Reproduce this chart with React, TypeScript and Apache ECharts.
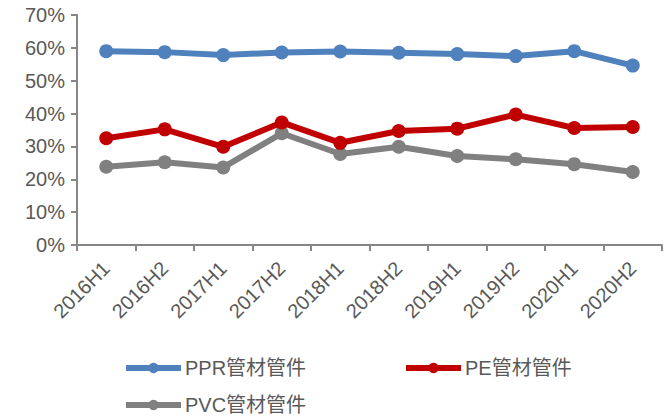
import React, { useEffect, useRef } from "react";
import * as echarts from "echarts";

const categories = ["2016H1", "2016H2", "2017H1", "2017H2", "2018H1", "2018H2", "2019H1", "2019H2", "2020H1", "2020H2"];
const pprValues = [59.0, 58.7, 57.8, 58.6, 58.9, 58.5, 58.1, 57.5, 59.0, 54.6];
const peValues = [32.5, 35.2, 29.9, 37.3, 31.1, 34.7, 35.4, 39.7, 35.6, 35.9];
const pvcValues = [23.8, 25.2, 23.6, 34.0, 27.7, 29.9, 27.1, 26.1, 24.6, 22.2];
const seriesNames = ["PPR管材管件", "PE管材管件", "PVC管材管件"];
const yTicks = [0, 10, 20, 30, 40, 50, 60, 70];

const colors = ["#4F81BD", "#C00000", "#808080"];
const FONT = "'Liberation Sans', Arial, 'Noto Sans CJK SC', sans-serif";

export default function App() {
  const ref = useRef<HTMLDivElement>(null);
  useEffect(() => {
    document.body.style.margin = "0";
    if (!ref.current) return;
    const chart = echarts.init(ref.current, null, { renderer: "svg" });
    const dataSets = [pprValues, peValues, pvcValues];
    const legendBase = {
      itemWidth: 55,
      itemHeight: 13,
      itemGap: 0,
      lineStyle: { width: 6 },
      textStyle: { fontFamily: FONT, fontSize: 20, color: "#595959", padding: [0, 0, 0, -1] },
    };
    chart.setOption({
      animation: false,
      backgroundColor: "#ffffff",
      grid: { left: 77, right: 5, top: 15, bottom: 171, containLabel: false },
      legend: [
        { ...legendBase, data: [seriesNames[0]], left: 118, top: 353 },
        { ...legendBase, data: [seriesNames[1]], left: 398, top: 353 },
        { ...legendBase, data: [seriesNames[2]], left: 118, top: 390 },
      ],
      xAxis: {
        type: "category",
        data: categories,
        boundaryGap: true,
        axisLine: { lineStyle: { color: "#868686", width: 2 } },
        axisTick: { show: true, length: 6, alignWithLabel: false, lineStyle: { color: "#868686", width: 2 } },
        axisLabel: {
          rotate: 45,
          interval: 0,
          margin: 20,
          fontFamily: FONT,
          fontSize: 20,
          color: "#595959",
        },
        splitLine: { show: false },
      },
      yAxis: {
        type: "value",
        min: 0,
        max: 70,
        interval: 10,
        axisLine: { show: true, lineStyle: { color: "#868686", width: 2 } },
        axisTick: { show: true, length: 6, lineStyle: { color: "#868686", width: 2 } },
        axisLabel: {
          margin: 12,
          fontFamily: FONT,
          fontSize: 20,
          color: "#595959",
          formatter: (v: number) => (yTicks.includes(v) ? `${v}%` : ""),
        },
        splitLine: { show: false },
      },
      series: seriesNames.map((name, i) => ({
        name,
        type: "line",
        data: dataSets[i],
        symbol: "circle",
        symbolSize: 14,
        color: colors[i],
        itemStyle: { color: colors[i] },
        lineStyle: { color: colors[i], width: 6 },
        z: 10 - i,
      })),
    });
    return () => chart.dispose();
  }, []);
  return <div ref={ref} style={{ width: 667, height: 416 }} />;
}
